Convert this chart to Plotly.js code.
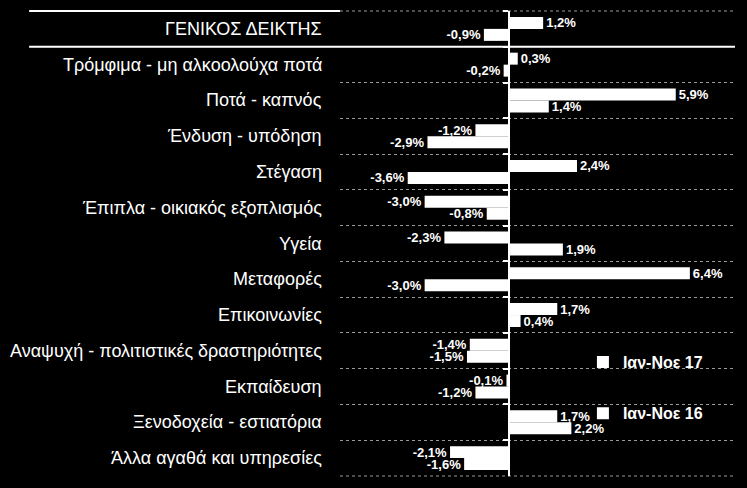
<!DOCTYPE html>
<html><head><meta charset="utf-8">
<script src="https://cdn.plot.ly/plotly-3.0.1.min.js"></script>
<style>html,body{margin:0;padding:0;background:#000;}#chart{width:747px;height:488px;}</style>
</head><body><div id="chart"></div>
<script>
var categories = ["ΓΕΝΙΚΟΣ ΔΕΙΚΤΗΣ","Τρόμφιμα - μη αλκοολούχα ποτά","Ποτά - καπνός","Ένδυση - υπόδηση","Στέγαση","Έπιπλα - οικιακός εξοπλισμός","Υγεία","Μεταφορές","Επικοινωνίες","Αναψυχή - πολιτιστικές δραστηριότητες","Εκπαίδευση","Ξενοδοχεία - εστιατόρια","Άλλα αγαθά και υπηρεσίες"];
var series17 = [1.2,0.3,5.9,-1.2,2.4,-3.0,-2.3,6.4,1.7,-1.4,-0.1,1.7,-2.1];
var series16 = [-0.9,-0.2,1.4,-2.9,-3.6,-0.8,1.9,-3.0,0.4,-1.5,-1.2,2.2,-1.6];
var seriesNames = ["Ιαν-Νοε 17","Ιαν-Νοε 16"];

var FONT = "Liberation Sans, Arial, sans-serif";
var textFont = {family: FONT, size: 13, color: "#fff", weight: "bold"};

var traces = [
  {type:"bar", orientation:"h", name:seriesNames[0], y:categories, x:series17,
   marker:{color:"#fff"}, texttemplate:"%{x:.1f}%", textposition:"outside", constraintext:"none",
   textfont:textFont, cliponaxis:false, legend:"legend", hoverinfo:"none"},
  {type:"bar", orientation:"h", name:seriesNames[1], y:categories, x:series16,
   marker:{color:"#fff"}, texttemplate:"%{x:.1f}%", textposition:"outside", constraintext:"none",
   textfont:textFont, cliponaxis:false, legend:"legend2", hoverinfo:"none"}
];

var annotations = categories.map(function(c){
  return {xref:"paper", yref:"y", x:-0.04, y:c, text:c, showarrow:false,
          xanchor:"right", yanchor:"middle", font:{family:FONT, size:18, color:"#fff"}};
});

var layout = {
  width:747, height:488,
  paper_bgcolor:"#000", plot_bgcolor:"#000",
  margin:{l:340, r:12, t:11, b:12},
  barmode:"group", bargap:0.33, bargroupgap:0,
  separators:",.",
  font:{family:FONT, color:"#fff"},
  xaxis:{range:[-6,8], showticklabels:false, showgrid:false, zeroline:false, showline:false, fixedrange:true},
  yaxis:{type:"category", categoryorder:"array", categoryarray:categories,
         range:[12.5,-0.5], anchor:"free", position:6/14,
         showline:true, linecolor:"#fff", linewidth:2,
         ticks:"outside", ticklen:5, tickcolor:"#fff", tickwidth:2, tickson:"boundaries",
         showticklabels:false, showgrid:true, gridcolor:"#9a9a9a", griddash:"dot", gridwidth:1,
         zeroline:false, fixedrange:true},
  showlegend:true,
  legend:{x:0.615, y:0.245, xanchor:"left", yanchor:"middle", bgcolor:"rgba(0,0,0,0)",
          font:{family:FONT, size:16, color:"#fff", weight:"bold"}},
  legend2:{x:0.615, y:0.135, xanchor:"left", yanchor:"middle", bgcolor:"rgba(0,0,0,0)",
          font:{family:FONT, size:16, color:"#fff", weight:"bold"}},
  annotations:annotations,
  shapes:[
    {type:"line", xref:"paper", yref:"paper", x0:0, x1:1, y0:1, y1:1, line:{color:"#9a9a9a", width:1, dash:"dot"}, layer:"below"},
    {type:"line", xref:"paper", yref:"paper", x0:0, x1:1, y0:0, y1:0, line:{color:"#9a9a9a", width:1, dash:"dot"}, layer:"below"},
    {type:"line", xref:"paper", yref:"paper", x0:-0.787, x1:0, y0:1, y1:1, line:{color:"#fff", width:2}},
    {type:"line", xref:"paper", yref:"y", x0:-0.787, x1:1, y0:0.5, y1:0.5, line:{color:"#fff", width:2}}
  ]
};
Plotly.newPlot("chart", traces, layout, {displayModeBar:false, staticPlot:true});
</script></body></html>
